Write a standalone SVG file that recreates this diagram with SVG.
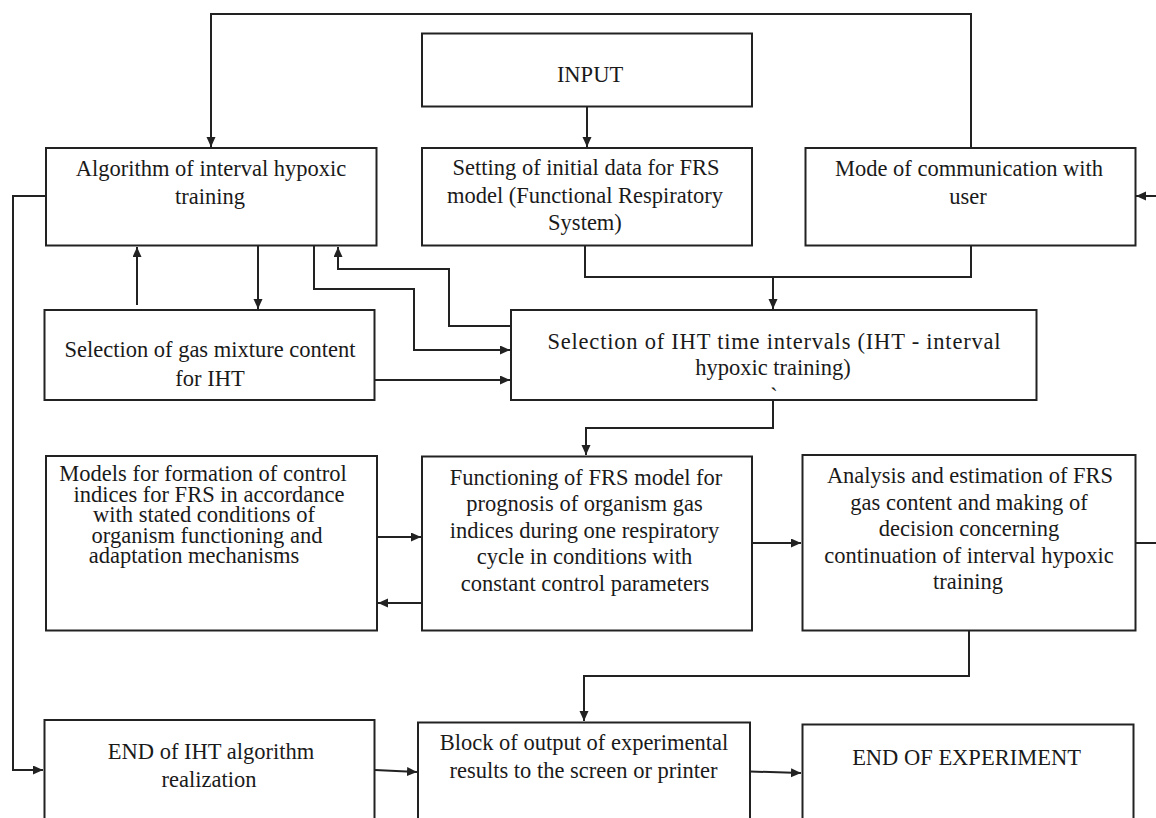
<svg xmlns="http://www.w3.org/2000/svg" width="1156" height="818" viewBox="0 0 1156 818">
<style>
.box{fill:#fff;stroke:#222;stroke-width:2}
.t{font-family:"Liberation Serif","Times New Roman",serif;font-size:22.5px;fill:#1a1a1a;text-anchor:middle}
.c{fill:none;stroke:#222;stroke-width:2}
.a{marker-end:url(#ah)}
</style>
<defs>
<marker id="ah" markerUnits="userSpaceOnUse" markerWidth="11" markerHeight="10" refX="10" refY="4.5" orient="auto">
<path d="M0,0 L10,4.5 L0,9 z" fill="#222"/>
</marker>
</defs>
<rect width="1156" height="818" fill="#fff"/>
<g id="connectors">
<polyline class="c a" points="971,148 971,14 211,14 211,147"/>
<line class="c a" x1="587" y1="107" x2="587" y2="147"/>
<polyline class="c" points="585,246 585,277 971,277 971,246"/>
<line class="c a" x1="773" y1="277" x2="773" y2="309"/>
<line class="c a" x1="1156" y1="196" x2="1136" y2="196"/>
<polyline class="c a" points="46,196 13,196 13,770 43,770"/>
<line class="c a" x1="137" y1="305" x2="137" y2="247"/>
<line class="c a" x1="258" y1="246" x2="258" y2="309"/>
<polyline class="c a" points="314,246 314,289 414,289 414,350 510,350"/>
<polyline class="c a" points="511,326 449,326 449,269 338,269 338,247"/>
<line class="c a" x1="375" y1="380" x2="510" y2="380"/>
<polyline class="c a" points="773,400 773,428 586,428 586,455"/>
<line class="c a" x1="377" y1="537" x2="421" y2="537"/>
<line class="c a" x1="422" y1="603" x2="378" y2="603"/>
<line class="c a" x1="752" y1="543" x2="801" y2="543"/>
<line class="c" x1="1135" y1="543" x2="1156" y2="543"/>
<polyline class="c a" points="969,631 969,676 584,676 584,721"/>
<line class="c a" x1="375" y1="770" x2="417" y2="772"/>
<line class="c a" x1="750" y1="771.5" x2="801" y2="773"/>
</g>
<g id="input">
<rect class="box" x="422" y="33.5" width="330" height="73"/>
<text class="t" x="590" y="82">INPUT</text>
</g>
<g id="algorithm">
<rect class="box" x="46" y="148" width="330.5" height="97.5"/>
<text class="t" y="176"><tspan x="211">Algorithm of interval hypoxic</tspan><tspan x="210" y="203.5">training</tspan></text>
</g>
<g id="setting">
<rect class="box" x="422" y="148" width="330" height="97.5"/>
<text class="t" y="175"><tspan x="586">Setting of initial data for FRS</tspan><tspan x="585" y="203">model (Functional Respiratory</tspan><tspan x="585" y="230">System)</tspan></text>
</g>
<g id="mode">
<rect class="box" x="805.5" y="148" width="330" height="97.5"/>
<text class="t" y="175.5"><tspan x="969">Mode of communication with</tspan><tspan x="968" y="203.5">user</tspan></text>
</g>
<g id="gas">
<rect class="box" x="44.5" y="310" width="330" height="90"/>
<text class="t" y="357"><tspan x="210">Selection of gas mixture content</tspan><tspan x="210" y="385.5">for IHT</tspan></text>
</g>
<g id="intervals">
<rect class="box" x="511" y="310" width="525.5" height="90"/>
<text class="t" y="349"><tspan x="774" textLength="453" lengthAdjust="spacing">Selection of IHT time intervals (IHT - interval</tspan><tspan x="773" y="375">hypoxic training)</tspan></text>
<text class="t" x="774" y="404">`</text>
</g>
<g id="models">
<rect class="box" x="46" y="456" width="331" height="174.5"/>
<text class="t" y="481"><tspan x="203">Models for formation of control</tspan><tspan x="209" y="501.5">indices for FRS in accordance</tspan><tspan x="204" y="522">with stated conditions of</tspan><tspan x="207" y="542.7">organism functioning and</tspan><tspan x="194" y="563.4">adaptation mechanisms</tspan></text>
</g>
<g id="functioning">
<rect class="box" x="422" y="456.5" width="330" height="174"/>
<text class="t" y="484.5"><tspan x="586">Functioning of FRS model for</tspan><tspan x="584.5" y="511">prognosis of organism gas</tspan><tspan x="584.5" y="537.5">indices during one respiratory</tspan><tspan x="584.5" y="564">cycle in conditions with</tspan><tspan x="585" y="590.5">constant control parameters</tspan></text>
</g>
<g id="analysis">
<rect class="box" x="802.5" y="455" width="333" height="175.5"/>
<text class="t" y="483"><tspan x="970">Analysis and estimation of FRS</tspan><tspan x="969" y="509.5">gas content and making of</tspan><tspan x="969" y="536">decision concerning</tspan><tspan x="969" y="562.5">continuation of interval hypoxic</tspan><tspan x="968" y="589">training</tspan></text>
</g>
<g id="end-iht">
<rect class="box" x="44.5" y="720" width="330" height="110"/>
<text class="t" y="759"><tspan x="211">END of IHT algorithm</tspan><tspan x="209" y="787">realization</tspan></text>
</g>
<g id="output">
<rect class="box" x="418" y="722.5" width="332" height="110"/>
<text class="t" y="750"><tspan x="584">Block of output of experimental</tspan><tspan x="583.5" y="778.3">results to the screen or printer</tspan></text>
</g>
<g id="end-experiment">
<rect class="box" x="802.5" y="724.5" width="331" height="110"/>
<text class="t" x="966.5" y="765">END OF EXPERIMENT</text>
</g>
</svg>
